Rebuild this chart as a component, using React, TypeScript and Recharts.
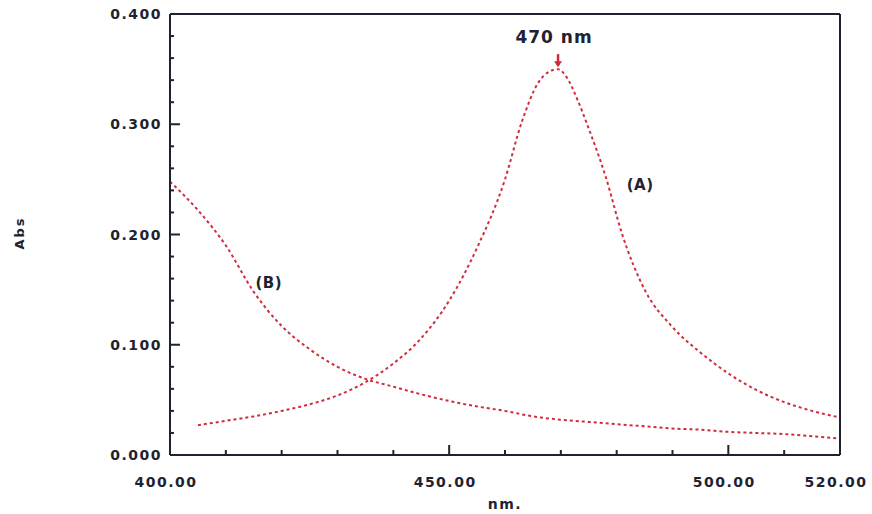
import { LineChart, Line, XAxis, YAxis, ReferenceDot } from 'recharts';

// curve (A): wavelength (nm) / absorbance
const wavelengthA = [405, 410, 415, 420, 425, 430, 435, 440, 445, 450, 455, 460, 463, 466, 468, 469.5, 471, 473, 475, 478, 481, 485, 490, 495, 500, 505, 510, 515, 520];
const absA = [0.027, 0.031, 0.035, 0.040, 0.046, 0.054, 0.066, 0.083, 0.106, 0.140, 0.188, 0.250, 0.302, 0.338, 0.348, 0.350, 0.343, 0.322, 0.296, 0.253, 0.200, 0.150, 0.116, 0.093, 0.074, 0.059, 0.048, 0.040, 0.034];

// curve (B)
const wavelengthB = [400, 405, 410, 415, 420, 425, 430, 435, 440, 445, 450, 455, 460, 465, 470, 475, 480, 485, 490, 495, 500, 505, 510, 515, 520];
const absB = [0.248, 0.222, 0.190, 0.148, 0.117, 0.096, 0.080, 0.069, 0.062, 0.055, 0.049, 0.044, 0.040, 0.035, 0.032, 0.030, 0.028, 0.026, 0.024, 0.023, 0.021, 0.020, 0.019, 0.017, 0.015];

const xTicks = [400, 410, 420, 430, 440, 450, 460, 470, 480, 490, 500, 510, 520];
const xLabelTicks = [400, 450, 500, 520];
const yTicks = [0, 0.02, 0.04, 0.06, 0.08, 0.1, 0.12, 0.14, 0.16, 0.18, 0.2, 0.22, 0.24, 0.26, 0.28, 0.3, 0.32, 0.34, 0.36, 0.38, 0.4];
const yLabelTicks = [0, 0.1, 0.2, 0.3, 0.4];

const seriesA = wavelengthA.map((nm, i) => ({ nm, abs: absA[i] }));
const seriesB = wavelengthB.map((nm, i) => ({ nm, abs: absB[i] }));

const INK = '#1f2230';
const RED = '#d22b3b';
const FONT = 'DejaVu Sans, sans-serif';

const textStyle = {
  fontFamily: FONT,
  fontWeight: 700,
  fontSize: 14,
  letterSpacing: 1.5,
  fill: INK,
};

function BottomTick(props: any) {
  const { x, y, payload } = props;
  const v = payload.value;
  const major = xLabelTicks.includes(v);
  return (
    <g>
      {v > 400 && v < 520 && (
        <line x1={x} x2={x} y1={y} y2={y - (major ? 10 : 5)} stroke={INK} strokeWidth={2} />
      )}
      {major && (
        <text x={x - 4} y={y + 27} textAnchor="middle" dominantBaseline="central" style={textStyle}>
          {v.toFixed(2)}
        </text>
      )}
    </g>
  );
}

function TopTick(props: any) {
  const { x, y, payload } = props;
  const v = payload.value;
  if (v <= 400 || v >= 520) return <g />;
  return <line x1={x} x2={x} y1={y} y2={y + 4} stroke={INK} strokeWidth={2} />;
}

function LeftTick(props: any) {
  const { x, y, payload } = props;
  const v = payload.value;
  const major = yLabelTicks.includes(v);
  return (
    <g>
      {v > 0 && v < 0.4 && (
        <line x1={x} x2={x + (major ? 10 : 4)} y1={y} y2={y} stroke={INK} strokeWidth={2} />
      )}
      {major && (
        <text x={x - 8} y={y} textAnchor="end" dominantBaseline="central" style={textStyle}>
          {v.toFixed(3)}
        </text>
      )}
    </g>
  );
}

function RightTick(props: any) {
  const { x, y, payload } = props;
  const v = payload.value;
  if (v <= 0 || v >= 0.4) return <g />;
  const major = yLabelTicks.includes(v);
  return <line x1={x} x2={x - (major ? 10 : 4)} y1={y} y2={y} stroke={INK} strokeWidth={2} />;
}

function PeakMarker(props: any) {
  const { cx, cy } = props;
  return (
    <g>
      <line x1={cx} x2={cx} y1={cy - 15} y2={cy - 4} stroke={RED} strokeWidth={2.5} />
      <polygon points={`${cx - 4},${cy - 8} ${cx + 4},${cy - 8} ${cx},${cy - 2}`} fill={RED} />
      <text
        x={cx - 4}
        y={cy - 32}
        textAnchor="middle"
        dominantBaseline="central"
        style={{ ...textStyle, fontSize: 17, letterSpacing: 1 }}
      >
        470 nm
      </text>
    </g>
  );
}

function CurveTag(text: string) {
  return (props: any) => (
    <text
      x={props.cx}
      y={props.cy}
      textAnchor="middle"
      dominantBaseline="central"
      style={{ ...textStyle, fontSize: 15, letterSpacing: 0.5 }}
    >
      {text}
    </text>
  );
}

export default function App() {
  return (
    <div style={{ position: 'absolute', left: 0, top: 0, width: 872, height: 514 }}>
      <LineChart width={872} height={514} margin={{ top: 0, right: 0, bottom: 0, left: 0 }}>
        <XAxis
          xAxisId="main"
          dataKey="nm"
          type="number"
          domain={[400, 520]}
          ticks={xTicks}
          interval={0}
          height={59}
          tickSize={0}
          tickMargin={0}
          tickLine={false}
          tick={BottomTick}
          axisLine={{ stroke: INK, strokeWidth: 2 }}
          label={() => (
            <text x={505} y={504} textAnchor="middle" dominantBaseline="central" style={textStyle}>
              nm.
            </text>
          )}
        />
        <XAxis
          xAxisId="top"
          orientation="top"
          type="number"
          domain={[400, 520]}
          ticks={xTicks}
          interval={0}
          height={14}
          tickSize={0}
          tickMargin={0}
          tickLine={false}
          tick={TopTick}
          axisLine={{ stroke: INK, strokeWidth: 2 }}
        />
        <YAxis
          yAxisId="main"
          type="number"
          domain={[0, 0.4]}
          ticks={yTicks}
          interval={0}
          width={170}
          tickSize={0}
          tickMargin={0}
          tickLine={false}
          tick={LeftTick}
          axisLine={{ stroke: INK, strokeWidth: 2 }}
          label={() => (
            <text
              x={19}
              y={233}
              transform="rotate(-90, 19, 233)"
              textAnchor="middle"
              dominantBaseline="central"
              style={{ ...textStyle, fontSize: 13, letterSpacing: 2 }}
            >
              Abs
            </text>
          )}
        />
        <YAxis
          yAxisId="right"
          orientation="right"
          type="number"
          domain={[0, 0.4]}
          ticks={yTicks}
          interval={0}
          width={32}
          tickSize={0}
          tickMargin={0}
          tickLine={false}
          tick={RightTick}
          axisLine={{ stroke: INK, strokeWidth: 2 }}
        />
        <Line
          xAxisId="main"
          yAxisId="main"
          data={seriesB}
          dataKey="abs"
          type="monotone"
          stroke={RED}
          strokeWidth={2}
          strokeDasharray="3 3"
          dot={false}
          isAnimationActive={false}
        />
        <Line
          xAxisId="main"
          yAxisId="main"
          data={seriesA}
          dataKey="abs"
          type="monotone"
          stroke={RED}
          strokeWidth={2}
          strokeDasharray="3 3"
          dot={false}
          isAnimationActive={false}
        />
        <ReferenceDot xAxisId="main" yAxisId="main" x={469.5} y={0.35} r={0} shape={PeakMarker} />
        <ReferenceDot xAxisId="main" yAxisId="main" x={484.2} y={0.245} r={0} shape={CurveTag('(A)')} />
        <ReferenceDot xAxisId="main" yAxisId="main" x={417.7} y={0.156} r={0} shape={CurveTag('(B)')} />
      </LineChart>
    </div>
  );
}
